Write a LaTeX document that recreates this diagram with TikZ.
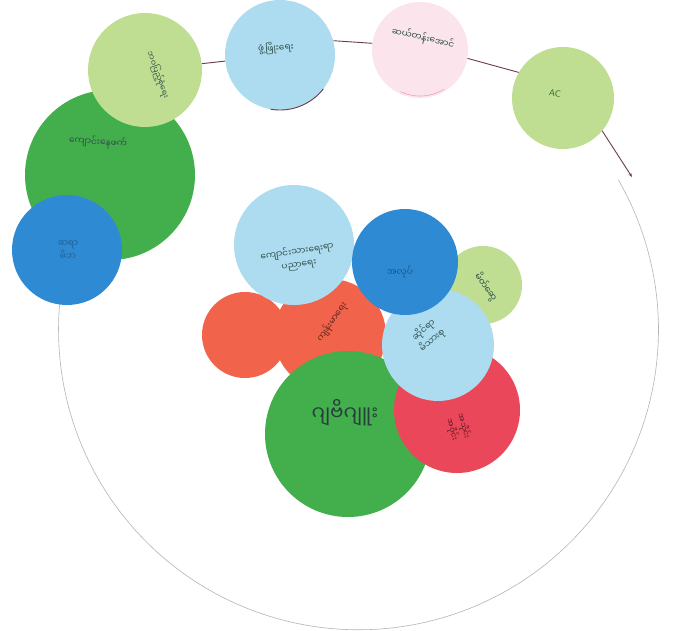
\documentclass[tikz,border=0pt]{standalone}
\usepackage{fontspec}
\newfontfamily\mya[Script=Myanmar]{Noto Sans Myanmar UI}
\usetikzlibrary{arrows.meta}
\definecolor{gA}{HTML}{43AE4C}
\definecolor{gL}{HTML}{BFDE92}
\definecolor{bL}{HTML}{ADDCF0}
\definecolor{bD}{HTML}{2F8AD4}
\definecolor{rO}{HTML}{F1644B}
\definecolor{rC}{HTML}{EB475A}
\definecolor{pk}{HTML}{FBE4EB}
\definecolor{ink}{HTML}{2E4F4A}
\definecolor{wire}{HTML}{6A3C4C}
\definecolor{ringc}{HTML}{B5B5B5}
\begin{document}
\begin{tikzpicture}[x=1pt,y=-1pt,
  blob/.style={circle,inner sep=0pt,minimum size=#1},
  lab/.style={font=\mya\fontsize{9}{13}\selectfont,text=ink,align=center,inner sep=0pt},
  wirestyle/.style={draw=wire,line width=0.9pt}]
\fill[white] (0,0) rectangle (678,631);
\useasboundingbox (0,0) rectangle (678,631);

% outer ring
\draw[ringc,line width=0.6pt] plot[domain=-30:185.7,samples=120] ({358.5+300*cos(\x)},{329.8+300*sin(\x)});

% top chain
\node[blob=170pt,fill=gA] (bg) at (110,175) {};
\node[blob=114pt,fill=gL] (lg1) at (145,70) {};
\node[blob=110pt,fill=bD] (bl) at (67,250) {};
\node[blob=110pt,fill=bL] (bt) at (280,55) {};
\node[blob=96pt,fill=pk] (pkc) at (420,50) {};
\node[blob=102pt,fill=gL] (ac) at (563,98) {};
\coordinate (arrowend) at (632,177);

\draw[wirestyle] (lg1) -- (bt);
\draw[wirestyle] (bt.15) -- (pkc.172);
\draw[wirestyle] (pkc.-10) -- (ac.150);
\draw[wirestyle,-{Stealth[length=4pt,width=3pt]}] (ac.-40) -- (arrowend);
\draw[wire,line width=0.9pt] plot[domain=38:100,samples=30] ({280+55*cos(\x)},{55+55*sin(\x)});
\draw[rC!50,line width=0.6pt] plot[domain=58:115,samples=30] ({420+46*cos(\x)},{50+46*sin(\x)});

% central cluster
\node[blob=112pt,fill=rO] (rm) at (330,335) {};
\node[blob=86pt,fill=rO] (rl) at (245,335) {};
\node[blob=120pt,fill=bL] (lb1) at (294,245) {};
\node[blob=78pt,fill=gL] (sg) at (483,285) {};
\node[blob=166pt,fill=gA] (gb) at (348,434) {};
\node[blob=126pt,fill=rC] (rc) at (457,410) {};
\node[blob=112pt,fill=bL] (lb2) at (438,345) {};
\node[blob=106pt,fill=bD] (bc) at (405,262) {};

% labels
\node[lab,rotate=-70,font=\mya\fontsize{8}{10}\selectfont] (t1) at (158,75) {ဘဝပြည့်စုံရေး};
\node[lab,rotate=4] (t2) at (276,48) {ဖွံ့ဖြိုးရေး};
\node[lab,rotate=-13] (t3) at (423,38) {ဆယ်တန်းအောင်};
\node[lab,rotate=-10,font=\sffamily\fontsize{9}{11}\selectfont,text=gA!60!black] (t4) at (555,93) {AC};
\node[lab,rotate=-4] (t5) at (98,142) {ကျောင်းနေဖက်};
\node[lab,text=bD!70!black] (t6) at (68,250) {ဆရာ\\မိဘ};
\node[lab,rotate=9] (t7) at (298,258) {ကျောင်းသားရေးရာ\\ပညာရေး};
\node[lab,rotate=55,text=rO!40!black] (t8) at (332,322) {ကျန်းမာရေး};
\node[lab,text=bD!60!black] (t9) at (400,272) {အလုပ်};
\node[lab,rotate=-55] (t10) at (486,287) {မိတ်ဆွေ};
\node[lab,rotate=40] (t11) at (428,335) {ဆိုင်ရာ\\မိသားစု};
\node[lab,rotate=-75,text=rC!35!black,font=\mya\fontsize{8}{12}\selectfont] (t12) at (458,428) {အသိုင်း\\အဝိုင်း};
\node[lab,font=\mya\fontsize{20}{24}\selectfont,text=ink!80!black] (t13) at (345,413) {ဂျဗိဂျူး};
\end{tikzpicture}
\end{document}
